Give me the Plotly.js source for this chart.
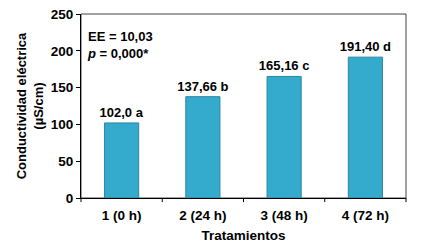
<!DOCTYPE html>
<html>
<head>
<meta charset="utf-8">
<script src="https://cdn.plot.ly/plotly-3.0.1.min.js"></script>
<style>html,body{margin:0;padding:0;background:#fff;}#chart{width:422px;height:250px;}</style>
</head>
<body>
<div id="chart"></div>
<script>
const categories = ["1 (0 h)", "2 (24 h)", "3 (48 h)", "4 (72 h)"];
const values = [102.0, 137.66, 165.16, 191.40];
const barLabels = ["102,0 a", "137,66 b", "165,16 c", "191,40 d"];
const yTicks = [0, 50, 100, 150, 200, 250];

const FONT = "Liberation Sans, Arial, sans-serif";

const trace = {
  type: "bar",
  x: categories,
  y: values,
  text: barLabels,
  texttemplate: "%{text}",
  textposition: "outside",
  constraintext: "none",
  cliponaxis: false,
  textfont: {family: FONT, size: 13, color: "#000", weight: "bold"},
  marker: {
    color: "#34aacd",
    line: {color: "#2a86a3", width: 1}
  },
  width: 0.42,
  hoverinfo: "skip"
};

const tickLine = (x) => ({type: "line", xref: "paper", yref: "paper", x0: x, x1: x, y0: 0, y1: -0.022,
  line: {color: "#000", width: 1}});

const layout = {
  width: 422, height: 250,
  margin: {l: 81, r: 16, t: 14, b: 52},
  paper_bgcolor: "#fff", plot_bgcolor: "#fff",
  showlegend: false,
  font: {family: FONT, size: 13, color: "#000"},
  xaxis: {
    type: "category",
    showline: true, linecolor: "#000", linewidth: 1,
    ticks: "",
    ticklabelstandoff: 5,
    tickfont: {family: FONT, size: 13.5, weight: "bold"},
    title: {text: "Tratamientos", font: {family: FONT, size: 13.5, weight: "bold"}, standoff: 8},
    showgrid: false, zeroline: false, fixedrange: true
  },
  yaxis: {
    range: [0, 250],
    tickvals: yTicks,
    ticks: "outside", ticklen: 4, tickcolor: "#000",
    showline: true, linecolor: "#000", linewidth: 1,
    tickfont: {family: FONT, size: 13.5, weight: "bold"},
    title: {text: "Conductividad eléctrica<br>(µS/cm)", font: {family: FONT, size: 13, weight: "bold"}, standoff: 4},
    showgrid: false, zeroline: false, fixedrange: true
  },
  shapes: [
    {type: "rect", xref: "paper", yref: "paper", x0: 0, x1: 1, y0: 0, y1: 1,
     line: {color: "#444", width: 1}, fillcolor: "rgba(0,0,0,0)", layer: "below"},
    tickLine(0), tickLine(0.25), tickLine(0.5), tickLine(0.75), tickLine(1)
  ],
  annotations: [
    {xref: "paper", yref: "paper", x: 0.012, y: 0.93, xanchor: "left", yanchor: "top",
     align: "left", showarrow: false,
     text: "EE = 10,03<br><i>p</i> = 0,000*",
     font: {family: FONT, size: 13, weight: "bold", color: "#000"}}
  ]
};

Plotly.newPlot("chart", [trace], layout, {displayModeBar: false, staticPlot: true});
</script>
</body>
</html>
